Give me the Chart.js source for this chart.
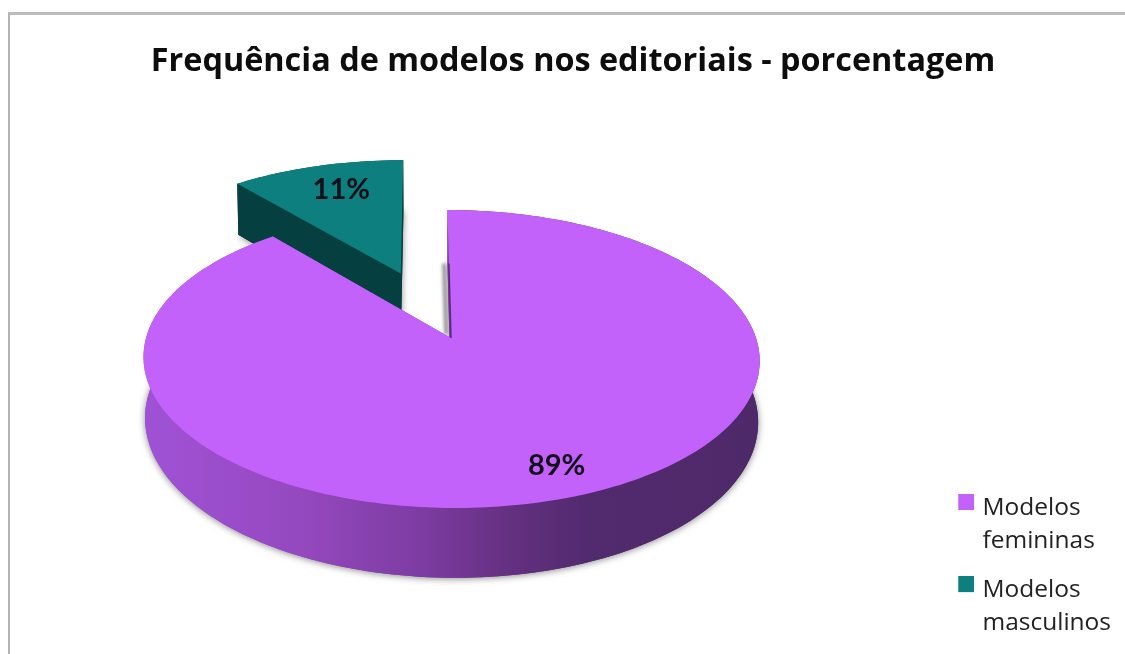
<!DOCTYPE html>
<html lang="pt">
<head>
<meta charset="utf-8">
<title>Frequência de modelos nos editoriais</title>
<script src="https://cdn.jsdelivr.net/npm/chart.js@4"></script>
<style>
    html, body { margin: 0; padding: 0; background: #fff; overflow: hidden; }
    #frame { position: absolute; left: 8px; top: 12px; width: 1117px; height: 642px; border-left: 2px solid #b4b4b4; border-top: 3px solid #bcbcbc; box-sizing: border-box; }
    #wrap { position: absolute; left: 0; top: 0; width: 1125px; height: 654px; }
</style>
</head>
<body>
<div id="frame"></div>
<div id="wrap"><canvas id="pieChart" width="1125" height="654"></canvas></div>
<script>
const categories = [["Modelos", "femininas"], ["Modelos", "masculinos"]];
const seriesValues = [89, 11];
const sliceColors = ["#c262fb", "#0d7f7f"];
const titleText = "Frequência de modelos nos editoriais - porcentagem";

// perspective of the tilted disc
const view = { cx: 451, cy: 338, rx: 305, ry: 146, k: 0.141, depth: 60, shrink: 0.995, lean: 0.028 };
// where each percentage sits along the slice's middle angle
const labelSpots = [{ r: 0.82, dx: 7, dy: 1 }, { r: 0.76, dx: 6, dy: 0 }];

function project(u, v) {
    const w = 1 - view.k * v;
    const y = view.cy + view.ry * v / w;
    return { x: view.cx + view.rx * u / w + view.lean * (y - view.cy), y };
}

function projectBottom(u, v) {
    const w = 1 - view.k * v;
    const p = project(u, v);
    return { x: view.cx + (p.x - view.cx) * view.shrink, y: p.y + view.depth / w };
}

// disc coordinates of a slice, radius 1, pushed out by its offset option
function sliceGeometry(arc) {
    const mid = (arc.startAngle + arc.endAngle) / 2;
    const push = (arc.options.offset || 0) / arc.outerRadius;
    const apex = { u: push * Math.cos(mid), v: push * Math.sin(mid) };
    const rim = [];
    const steps = Math.ceil((arc.endAngle - arc.startAngle) * 40);
    for (let i = 0; i <= steps; i++) {
        const a = arc.startAngle + (arc.endAngle - arc.startAngle) * i / steps;
        rim.push({ u: apex.u + Math.cos(a), v: apex.v + Math.sin(a) });
    }
    return { mid, apex, rim };
}

function tracePath(ctx, points) {
    ctx.beginPath();
    points.forEach((p, i) => i ? ctx.lineTo(p.x, p.y) : ctx.moveTo(p.x, p.y));
    ctx.closePath();
}

function drawSlice(ctx, arc, color, sideFill) {
    const { apex, rim } = sliceGeometry(arc);
    const topRim = rim.map(p => project(p.u, p.v));
    const lowRim = rim.map(p => projectBottom(p.u, p.v));
    const topApex = project(apex.u, apex.v);
    const lowApex = projectBottom(apex.u, apex.v);

    ctx.save();
    ctx.shadowColor = "rgba(40, 40, 40, 0.55)";
    ctx.shadowBlur = 7;
    ctx.shadowOffsetX = 0;
    ctx.shadowOffsetY = 1;
    ctx.fillStyle = sideFill;
    tracePath(ctx, [lowApex, ...lowRim]);
    ctx.fill();
    ctx.restore();

    ctx.fillStyle = sideFill;
    tracePath(ctx, [...topRim, ...lowRim.slice().reverse()]);
    ctx.fill();
    const lastTop = topRim[topRim.length - 1];
    const lastLow = lowRim[lowRim.length - 1];
    tracePath(ctx, [topRim[0], topApex, lowApex, lowRim[0]]);
    ctx.fill();
    tracePath(ctx, [lastTop, topApex, lowApex, lastLow]);
    ctx.fill();

    ctx.fillStyle = color;
    tracePath(ctx, [topApex, ...topRim]);
    ctx.fill();
}

const pie3d = {
    id: "pie3d",
    beforeDatasetDraw(chart, args) {
        const ctx = chart.ctx;
        const arcs = args.meta.data;

        const wall = ctx.createLinearGradient(144, 0, 760, 0);
        wall.addColorStop(0, "#a052d6");
        wall.addColorStop(0.25, "#9549bf");
        wall.addColorStop(0.45, "#7d3ca2");
        wall.addColorStop(0.6, "#63307f");
        wall.addColorStop(0.72, "#522a6e");
        wall.addColorStop(1, "#4e2969");

        // soft grey edge left of the cut, then the slices on top of it
        const edgeA = project(0, 0);
        const edgeB = project(0, -0.55);
        ctx.save();
        ctx.filter = "blur(1.5px)";
        ctx.strokeStyle = "rgba(110, 110, 110, 0.6)";
        ctx.lineWidth = 4;
        ctx.beginPath();
        ctx.moveTo(edgeA.x - 5, edgeA.y - 4);
        ctx.lineTo(edgeB.x - 5, edgeB.y);
        ctx.stroke();
        ctx.restore();

        // the pushed out slice sits behind the big one
        drawSlice(ctx, arcs[1], sliceColors[1], "#063f3f");
        drawSlice(ctx, arcs[0], sliceColors[0], wall);

        // thin cut edge of the big slice
        ctx.strokeStyle = "#5a2a80";
        ctx.lineWidth = 1.5;
        ctx.beginPath();
        ctx.moveTo(edgeA.x, edgeA.y);
        ctx.lineTo(edgeB.x, edgeB.y);
        ctx.stroke();

        ctx.fillStyle = "#14101a";
        ctx.font = "bold 29px Lato";
        ctx.textAlign = "center";
        ctx.textBaseline = "middle";
        arcs.forEach((arc, i) => {
            const { mid, apex } = sliceGeometry(arc);
            const spot = labelSpots[i];
            const p = project(apex.u + spot.r * Math.cos(mid), apex.v + spot.r * Math.sin(mid));
            ctx.fillText(seriesValues[i] + "%", p.x + spot.dx, p.y + spot.dy);
        });
        return false;
    }
};

// legend square as an image, so it can sit a little above the first text line
function legendSwatch(color) {
    const c = document.createElement("canvas");
    c.width = 20;
    c.height = 28;
    const g = c.getContext("2d");
    g.fillStyle = color;
    g.fillRect(4, 0, 16, 16);
    return c;
}
const swatches = sliceColors.map(legendSwatch);

new Chart(document.getElementById("pieChart"), {
    type: "pie",
    data: {
        labels: categories,
        datasets: [{
            data: seriesValues,
            backgroundColor: sliceColors,
            borderWidth: 0,
            offset: [0, 100]
        }]
    },
    plugins: [pie3d],
    options: {
        responsive: false,
        animation: false,
        radius: 200,
        rotation: 0,
        layout: { padding: { left: 25, top: 26, right: 4, bottom: -6 } },
        plugins: {
            tooltip: { enabled: false },
            title: {
                display: true,
                text: titleText,
                color: "#0d0d0d",
                font: { family: "Open Sans", size: 32.4, weight: "bold" },
                padding: { top: 16, bottom: 0 }
            },
            legend: {
                position: "right",
                align: "end",
                labels: {
                    boxWidth: 12,
                    boxHeight: 16,
                    padding: 16,
                    usePointStyle: true,
                    color: "#222222",
                    font: { family: "Open Sans", size: 24.5, lineHeight: 1.35 },
                    generateLabels(chart) {
                        const items = Chart.overrides.pie.plugins.legend.labels.generateLabels(chart);
                        return items.map((item, i) => ({ ...item, pointStyle: swatches[i] }));
                    }
                }
            }
        }
    }
});
</script>
</body>
</html>
